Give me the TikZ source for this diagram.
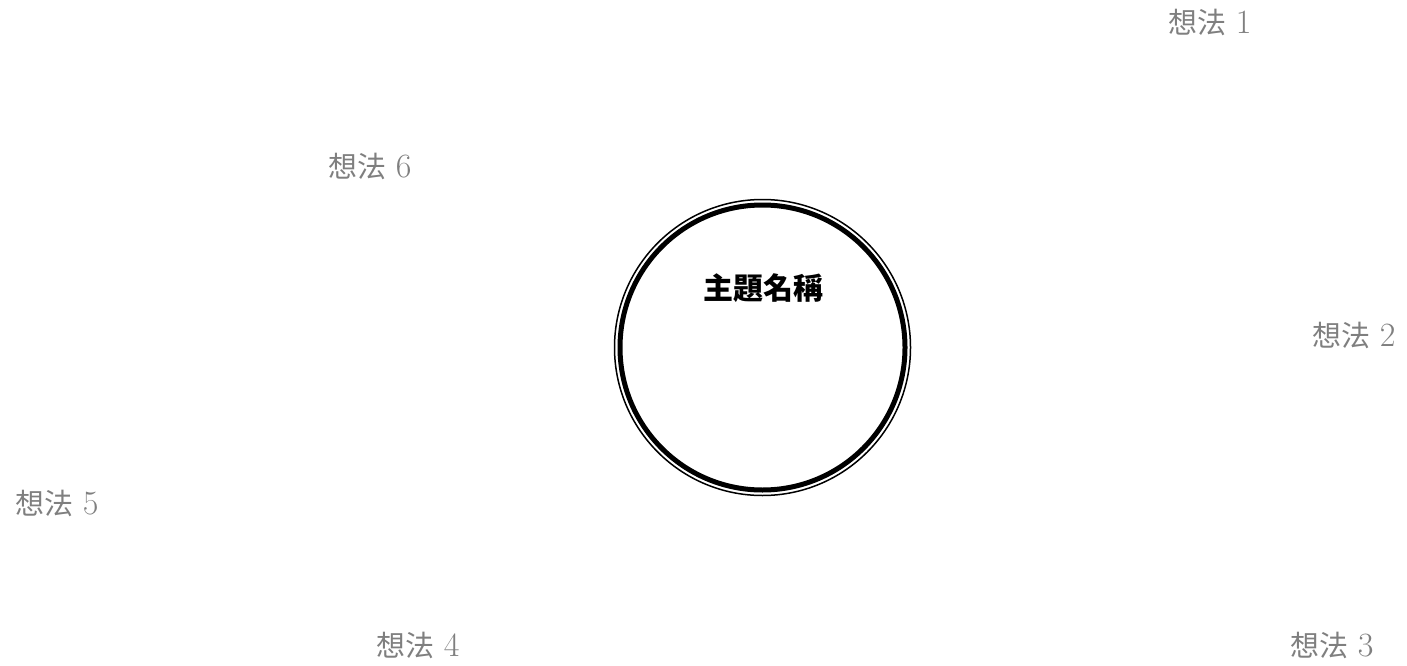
\documentclass[tikz,border=0pt]{standalone}
\usepackage{fontspec}
\usepackage{tikz}
\usetikzlibrary{positioning}
\newfontfamily\cjkfont{Noto Sans CJK TC}
\definecolor{ideaGray}{HTML}{7F7F7F}
\newcommand{\ideanum}[1]{\hspace{3pt}{\fontspec{Latin Modern Roman}\fontsize{34}{34}\selectfont #1}}

\begin{document}
\begin{tikzpicture}[x=1pt,y=-1pt,
        every node/.style={inner sep=0pt,align=center},
        idea/.style={text=ideaGray,font=\fontsize{29}{34}\selectfont\cjkfont},
        topic/.style={font=\fontsize{30}{34}\selectfont\cjkfont\bfseries},
        rim/.style={circle,draw,line width=1.5pt,minimum size=296pt},
        core/.style={circle,draw,line width=5pt,minimum size=285pt}]
        \useasboundingbox (0,0) rectangle (1407,666);
        \node[rim] (ring) at (762.5,347.5) {};
        \node[core] (hub) at (ring.center) {};
        \node[topic] (title) at (763,288) {主題名稱};
        \node[idea] (idea1) at (1210,22) {想法 \ideanum{1}};
        \node[idea] (idea2) at (1354,335) {想法 \ideanum{2}};
        \node[idea] (idea3) at (1332,645) {想法 \ideanum{3}};
        \node[idea] (idea4) at (418,645) {想法 \ideanum{4}};
        \node[idea] (idea5) at (57,503) {想法 \ideanum{5}};
        \node[idea] (idea6) at (370,166) {想法 \ideanum{6}};
      \end{tikzpicture}
\end{document}
